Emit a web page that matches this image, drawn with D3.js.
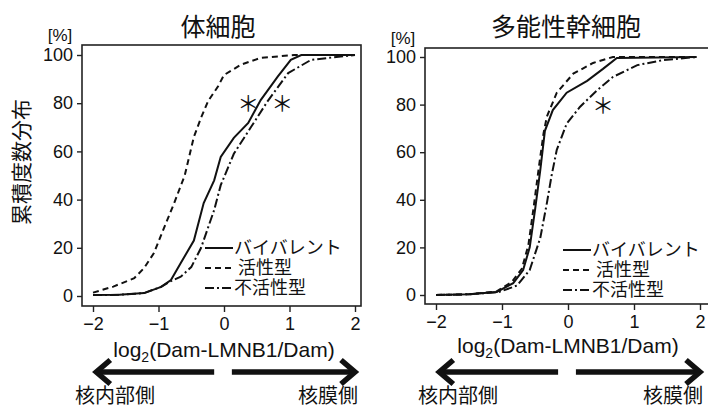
<!DOCTYPE html>
<html>
<head>
<meta charset="utf-8">
<script src="https://cdn.jsdelivr.net/npm/d3@7"></script>
<style>
  body { margin: 0; background: #fff; }
  svg { display: block; }
  text { fill: #111; }
</style>
</head>
<body>
<svg id="chart" width="708" height="408"></svg>
<script>
// x = log2(Dam-LMNB1/Dam), y = cumulative %
const xTicks = [-2, -1, 0, 1, 2];
const yTicks = [0, 20, 40, 60, 80, 100];
const seriesNames = ["バイバレント", "活性型", "不活性型"];
const panelTitles = ["体細胞", "多能性幹細胞"];

// 体細胞
const somaBivalent = [[-2, 0.4], [-1.6, 0.5], [-1.22, 1.2], [-0.96, 3.8], [-0.81, 6.6], [-0.66, 13.7], [-0.46, 23],
  [-0.31, 38.6], [-0.15, 48], [-0.05, 57.7], [0.15, 65.6], [0.37, 71.8], [0.56, 81.3], [0.82, 91],
  [1.02, 98], [1.18, 100], [2, 100]];
const somaActive = [[-2, 1.4], [-1.69, 3.9], [-1.37, 7.4], [-1.22, 11.6], [-1.07, 17.8], [-0.92, 28], [-0.76, 38.6],
  [-0.6, 50], [-0.46, 66], [-0.35, 74], [-0.24, 81], [-0.09, 87], [0, 91.7], [0.26, 96], [0.56, 98.8],
  [1.07, 100], [2, 100]];
const somaInactive = [[-2, 0.4], [-1.6, 0.5], [-1.22, 1.2], [-0.96, 3.8], [-0.81, 6.2], [-0.66, 8], [-0.5, 12],
  [-0.35, 20], [-0.15, 35.7], [-0.05, 46], [0.15, 59], [0.41, 70], [0.67, 81], [0.98, 92.5],
  [1.33, 98], [2, 100]];

// 多能性幹細胞
const escBivalent = [[-2, 0], [-1.5, 0.3], [-1.08, 1.3], [-0.83, 5], [-0.68, 10.5], [-0.58, 20], [-0.5, 35.7],
  [-0.42, 52.5], [-0.35, 69], [-0.23, 77.7], [-0.02, 85], [0.29, 90], [0.53, 95], [0.74, 99.6],
  [1.95, 100]];
const escActive = [[-2, 0], [-1.5, 0.3], [-1.08, 1.5], [-0.85, 5.5], [-0.7, 11], [-0.6, 21], [-0.52, 37],
  [-0.44, 54], [-0.37, 68], [-0.32, 75], [-0.17, 85], [0.08, 93], [0.38, 97.5], [0.68, 100],
  [1.95, 100]];
const escInactive = [[-2, 0], [-1.5, 0.3], [-1.05, 1.2], [-0.77, 4], [-0.58, 10.5], [-0.42, 24], [-0.32, 38.6],
  [-0.25, 50], [-0.17, 61], [-0.02, 72], [0.18, 79], [0.44, 86], [0.68, 91.6], [1.05, 96.6],
  [1.44, 98.7], [1.95, 100]];

// asterisk positions (x, %)
const somaStars = [[0.37, 80], [0.89, 80]];
const escStars = [[0.53, 80]];

const dashes = [null, "6,4", "9,3,2,3"];
const jpFont = "'Noto Sans CJK JP', sans-serif";
const numFont = "'Liberation Sans', Arial, sans-serif";

const svg = d3.select("#chart");

svg.append("text")
  .attr("transform", "translate(29,162) rotate(-90)")
  .attr("text-anchor", "middle")
  .style("font", `21px ${jpFont}`)
  .text("累積度数分布");

const panels = [
  { title: panelTitles[0], series: [somaBivalent, somaActive, somaInactive], stars: somaStars,
    box: [82, 361, 45, 306], xr: [93, 355], yr: [296, 55], titleX: 218, legendX: 205, legendY: 248, xlabY: 357 },
  { title: panelTitles[1], series: [escBivalent, escActive, escInactive], stars: escStars,
    box: [425, 712, 48, 304], xr: [436, 700], yr: [295, 57], titleX: 566, legendX: 563, legendY: 250, xlabY: 353 }
];

panels.forEach(p => {
  const x = d3.scaleLinear().domain([-2, 2]).range(p.xr);
  const y = d3.scaleLinear().domain([0, 100]).range(p.yr);
  const [bl, br, bt, bb] = p.box;
  const g = svg.append("g");

  g.append("rect")
    .attr("x", bl).attr("y", bt)
    .attr("width", br - bl).attr("height", bb - bt)
    .attr("fill", "none").attr("stroke", "#222").attr("stroke-width", 1.6);

  const xAxis = g.append("g")
    .attr("transform", `translate(0,${bb})`)
    .call(d3.axisBottom(x).tickValues(xTicks).tickSize(6).tickPadding(5).tickFormat(d => d < 0 ? "−" + (-d) : d));
  const yAxis = g.append("g")
    .attr("transform", `translate(${bl},0)`)
    .call(d3.axisLeft(y).tickValues(yTicks).tickSize(5).tickPadding(4));
  [xAxis, yAxis].forEach(a => {
    a.select(".domain").remove();
    a.selectAll("line").attr("stroke", "#222").attr("stroke-width", 1.4);
    a.selectAll("text").style("font", `18px ${numFont}`).attr("fill", "#111");
  });

  g.append("text")
    .attr("x", bl - 22).attr("y", bt - 4)
    .attr("text-anchor", "middle")
    .style("font", `17px ${numFont}`)
    .text("[%]");

  g.append("text")
    .attr("x", p.titleX).attr("y", 36)
    .attr("text-anchor", "middle")
    .style("font", `25px ${jpFont}`)
    .text(p.title);

  const line = d3.line().x(d => x(d[0])).y(d => y(d[1]));
  p.series.forEach((s, i) => {
    g.append("path")
      .datum(s)
      .attr("d", line)
      .attr("fill", "none")
      .attr("stroke", "#111")
      .attr("stroke-width", 2)
      .attr("stroke-dasharray", dashes[i]);
  });

  g.selectAll(".star")
    .data(p.stars)
    .join("text")
    .attr("x", d => x(d[0])).attr("y", d => y(d[1]) + 8)
    .attr("text-anchor", "middle")
    .style("font", `22px ${jpFont}`)
    .text("＊");

  // legend
  seriesNames.forEach((name, i) => {
    const ly = p.legendY + i * 20;
    g.append("line")
      .attr("x1", p.legendX).attr("x2", p.legendX + 28)
      .attr("y1", ly).attr("y2", ly)
      .attr("stroke", "#111").attr("stroke-width", 2)
      .attr("stroke-dasharray", dashes[i]);
    g.append("text")
      .attr("x", p.legendX + (i === 1 ? 33 : 29)).attr("y", ly + 6)
      .style("font", `18px ${jpFont}`)
      .text(name);
  });

  // x label
  const xl = g.append("text")
    .attr("x", x(0)).attr("y", p.xlabY)
    .attr("text-anchor", "middle")
    .style("font", `21px ${numFont}`);
  xl.append("tspan").text("log");
  xl.append("tspan").attr("dy", 5).style("font-size", "14px").text("2");
  xl.append("tspan").attr("dy", -5).text("(Dam-LMNB1/Dam)");

  // direction arrows
  const ay = 372;
  const arrows = [[x(-0.15), x(-1.95)], [x(0.12), x(2.0)]];
  arrows.forEach(([from, to]) => {
    const dir = to > from ? 1 : -1;
    g.append("line")
      .attr("x1", from).attr("x2", to - dir * 2)
      .attr("y1", ay).attr("y2", ay)
      .attr("stroke", "#111").attr("stroke-width", 5.5);
    g.append("path")
      .attr("d", `M${to - dir * 14},${ay - 12}L${to},${ay}L${to - dir * 14},${ay + 12}`)
      .attr("fill", "none").attr("stroke", "#111").attr("stroke-width", 5.5)
      .attr("stroke-linejoin", "miter").attr("stroke-linecap", "butt");
  });
  g.append("text")
    .attr("x", x(-2) - 18).attr("y", 403)
    .style("font", `20px ${jpFont}`)
    .text("核内部側");
  g.append("text")
    .attr("x", x(2) + 3).attr("y", 403)
    .attr("text-anchor", "end")
    .style("font", `20px ${jpFont}`)
    .text("核膜側");
});
</script>
</body>
</html>
